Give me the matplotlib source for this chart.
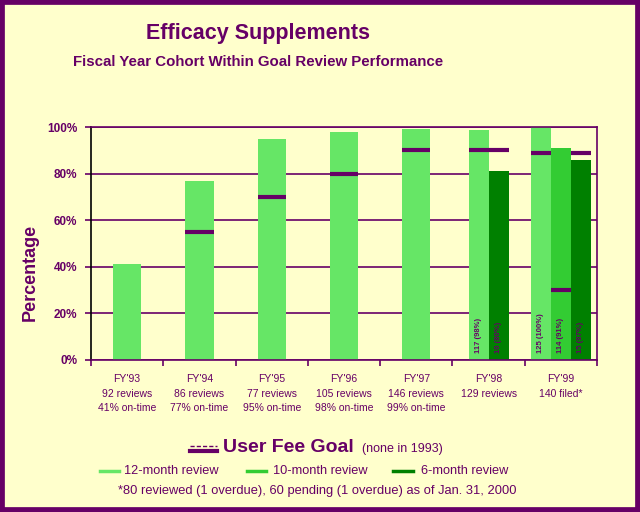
import numpy as np
import matplotlib
matplotlib.use("Agg")
import matplotlib.pyplot as plt
from matplotlib.lines import Line2D
from matplotlib.patches import Rectangle

# data
years = ["FY'93", "FY'94", "FY'95", "FY'96", "FY'97", "FY'98", "FY'99"]
reviews = ["92 reviews", "86 reviews", "77 reviews", "105 reviews",
           "146 reviews", "129 reviews", "140 filed*"]
on_time = ["41% on-time", "77% on-time", "95% on-time", "98% on-time",
           "99% on-time", "", ""]

pct_12 = [41, 77, 95, 98, 99, 98.5, 100]
pct_10 = [np.nan, np.nan, np.nan, np.nan, np.nan, np.nan, 91]
pct_6 = [np.nan, np.nan, np.nan, np.nan, np.nan, 81, 86]

goal_12 = [np.nan, 55, 70, 80, 90, 90, 89]
goal_10 = [np.nan, np.nan, np.nan, np.nan, np.nan, np.nan, 30]
goal_6 = [np.nan, np.nan, np.nan, np.nan, np.nan, 90, 89]

lab_12 = ["", "", "", "", "", "117 (98%)", "125 (100%)"]
lab_10 = ["", "", "", "", "", "", "114 (91%)"]
lab_6 = ["", "", "", "", "", "10 (80%)", "15 (87%)"]

PURPLE = "#660066"
BG = "#FFFFCC"
C12 = "#66E666"
C10 = "#33CC33"
C6 = "#008000"

plt.rcParams["font.family"] = ["Liberation Sans", "DejaVu Sans"]

fig = plt.figure(figsize=(6.4, 5.12), dpi=100)
fig.patch.set_facecolor(BG)
fig.add_artist(Rectangle((0, 0), 1, 1, transform=fig.transFigure,
                         fill=False, edgecolor=PURPLE, linewidth=7))

ax = fig.add_axes([91 / 640, 152 / 512, 506 / 640, 233 / 512])
ax.set_facecolor(BG)

x = np.arange(len(years))
w = 0.277

# bar positions: single wide bar for early years, grouped for FY'98/'99
x12, w12 = [], []
x10, x6 = [], []
for i in range(len(years)):
    n = 1 + (not np.isnan(pct_10[i])) + (not np.isnan(pct_6[i]))
    if n == 1:
        x12.append(x[i]); w12.append(0.39)
        x10.append(np.nan); x6.append(np.nan)
        continue
    start = x[i] - w * n / 2 + w / 2
    x12.append(start); w12.append(w)
    k = 1
    if not np.isnan(pct_10[i]):
        x10.append(start + k * w); k += 1
    else:
        x10.append(np.nan)
    x6.append(start + k * w)

ax.bar(x12, pct_12, width=w12, color=C12, zorder=2)
ax.bar(x10, pct_10, width=w, color=C10, zorder=2)
ax.bar(x6, pct_6, width=w, color=C6, zorder=2)

# user fee goal markers
for i in range(len(years)):
    for xs, ws, g in [(x12[i], w12[i], goal_12[i]), (x10[i], w, goal_10[i]),
                      (x6[i], w, goal_6[i])]:
        if not np.isnan(g) and not np.isnan(xs):
            ax.hlines(g, xs - ws / 2, xs + ws / 2, color=PURPLE,
                      linewidth=3, zorder=3)

# counts written inside the bars
for xs, labs in [(x12, lab_12), (x10, lab_10), (x6, lab_6)]:
    for xi, t in zip(xs, labs):
        if t:
            ax.text(xi, 3, t, rotation=90, ha="center", va="bottom",
                    fontsize=5.5, fontweight="bold", color=PURPLE, zorder=4)

ax.set_xlim(-0.5, len(years) - 0.5)
ax.set_ylim(0, 100)
ax.set_yticks([0, 20, 40, 60, 80, 100])
ax.set_yticklabels([f"{v}%" for v in [0, 20, 40, 60, 80, 100]],
                   fontsize=8.5, fontweight="bold", color=PURPLE)
ax.yaxis.grid(True, color=PURPLE, linewidth=1.2, zorder=1)
ax.set_axisbelow(True)

ax.set_xticks(x)
ax.set_xticklabels([f"{a}\n{b}\n{c}" for a, b, c in zip(years, reviews, on_time)],
                   fontsize=7.5, color=PURPLE, linespacing=1.6, va="top")
ax.set_xticks(np.arange(len(years) + 1) - 0.5, minor=True)
ax.tick_params(axis="x", which="major", length=0, pad=10)
ax.tick_params(axis="x", which="minor", length=4, color=PURPLE, width=1.2)
ax.tick_params(axis="y", length=4, color=PURPLE, width=1.2, pad=6)

for s in ["top", "right", "bottom"]:
    ax.spines[s].set_color(PURPLE)
    ax.spines[s].set_linewidth(1.2)
ax.spines["left"].set_color("black")
ax.spines["left"].set_linewidth(1.2)

fig.text(30 / 640, 1 - 272 / 512, "Percentage", rotation=90, ha="center",
         va="center", fontsize=13, fontweight="bold", color=PURPLE)

fig.text(258 / 640, 1 - 33 / 512, "Efficacy Supplements", ha="center",
         va="center", fontsize=15.5, fontweight="bold", color=PURPLE)
fig.text(258 / 640, 1 - 62 / 512, "Fiscal Year Cohort Within Goal Review Performance",
         ha="center", va="center", fontsize=10.8, fontweight="bold", color=PURPLE)

# legend area
def px(xp, yp):
    return xp / 640, 1 - yp / 512

fig.add_artist(Line2D([190 / 640, 217 / 640], [1 - 451 / 512] * 2,
                      transform=fig.transFigure, color=PURPLE, linewidth=3))
fig.add_artist(Line2D([190 / 640, 217 / 640], [1 - 446 / 512] * 2,
                      transform=fig.transFigure, color=PURPLE, linewidth=1,
                      linestyle=(0, (3, 1.5))))
fig.text(*px(223, 447), "User Fee Goal", ha="left", va="center", fontsize=14,
         fontweight="bold", color=PURPLE)
fig.text(*px(362, 449), "(none in 1993)", ha="left", va="center", fontsize=9,
         color=PURPLE)

for x0, x1, tx, col, lab in [(100, 119, 124, C12, "12-month review"),
                             (247, 266, 273, C10, "10-month review"),
                             (393, 413, 421, C6, "6-month review")]:
    fig.add_artist(Line2D([x0 / 640, x1 / 640], [1 - 471 / 512] * 2,
                          transform=fig.transFigure, color=col, linewidth=2.5))
    fig.text(*px(tx, 471), lab, ha="left", va="center", fontsize=9.2, color=PURPLE)

fig.text(*px(317, 491), "*80 reviewed (1 overdue), 60 pending (1 overdue) as of Jan. 31, 2000",
         ha="center", va="center", fontsize=9.3, color=PURPLE)

fig.savefig("out.png", dpi=100, facecolor=fig.get_facecolor())
